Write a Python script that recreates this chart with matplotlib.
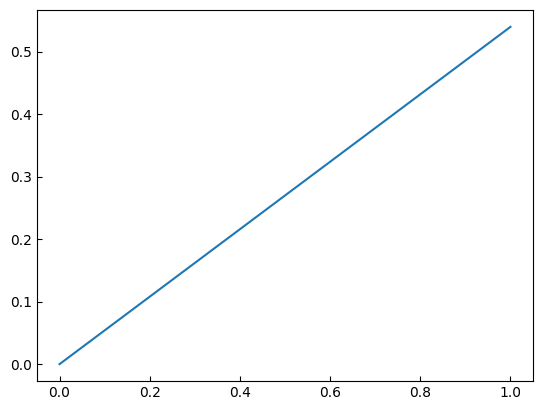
import matplotlib
matplotlib.use("Agg")
import matplotlib.pyplot as plt

# data
x_values = [0.0, 1.0]
y_values = [0.0, 0.54]

fig = plt.figure(figsize=(5.42, 4.08), dpi=100)
ax = fig.add_axes([37 / 542, 27 / 408, 496 / 542, 371 / 408])

ax.plot(x_values, y_values, color="#1f77b4")

ax.tick_params(direction="in")

fig.savefig("out.png", dpi=100)
plt.close(fig)
